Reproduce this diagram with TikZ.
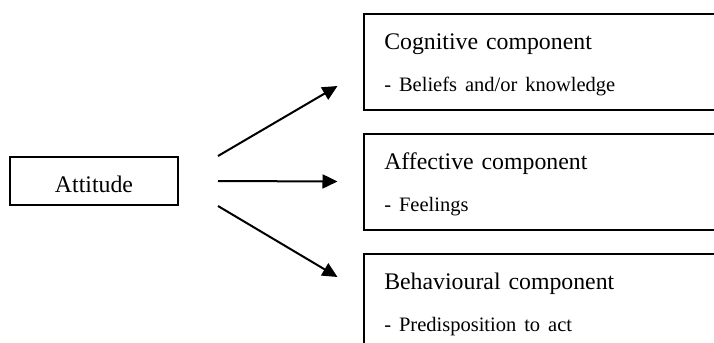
\documentclass[tikz,border=0pt]{standalone}
\usepackage{fontspec}
\setmainfont{Liberation Serif}
\usetikzlibrary{arrows.meta,calc}
\newcommand{\boxfont}{\fontsize{11.9pt}{21pt}\selectfont}
\newcommand{\detail}[1]{{\fontsize{10.25pt}{21pt}\selectfont #1}}
\begin{document}
	\begin{tikzpicture}[x=0.5pt,y=-0.5pt,
		box/.style={draw,line width=1pt,inner xsep=0pt,inner ysep=0pt,font=\boxfont},
		comp/.style={box,anchor=north west,align=left,text width=180pt,
			inner xsep=10.4pt,text height=18pt,text depth=30pt},
		arr/.style={line width=1pt,-{Triangle[length=7.5pt,width=7pt]}}]
		\useasboundingbox (0,0) rectangle (714,343);
		\clip (0,0) rectangle (714,343);
		\node[box,minimum width=84pt,text height=17.5pt,text depth=6.5pt] (Att) at (94,181) {Attitude};
		\node[comp] (Cog) at (362.5,12.5) {Cognitive component\\
			\detail{- Beliefs and/or knowledge}};
		\node[comp] (Aff) at (362.5,132.5) {Affective component\\
			\detail{- Feelings}};
		\node[comp] (Beh) at (362.5,252.5) {Behavioural component\\
			\detail{- Predisposition to act}};
		\draw[arr] ($(Att.north east)+(39,0)$) -- ($(Cog.west)!0.5!(Cog.south west)+(-25,0)$);
		\draw[arr] ($(Att.east)+(39,0)$) -- ($(Aff.west)+(-25,0)$);
		\draw[arr] ($(Att.south east)+(39,0)$) -- ($(Beh.west)!0.5!(Beh.north west)+(-25,0)$);
	\end{tikzpicture}
\end{document}
